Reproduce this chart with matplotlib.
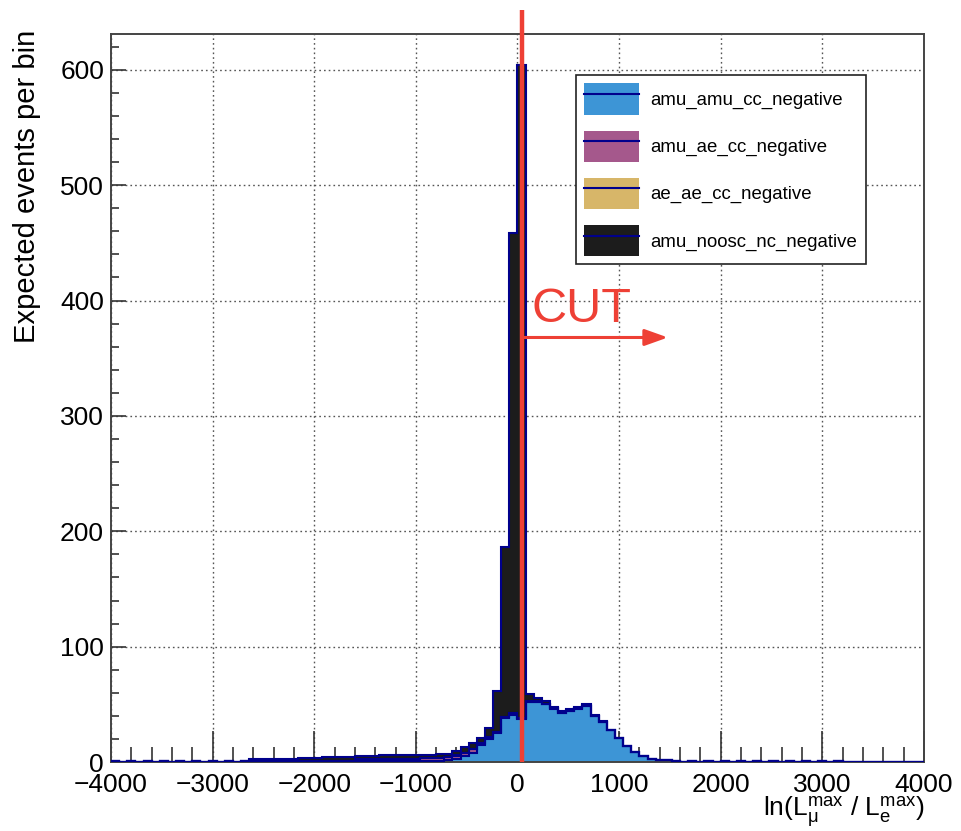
import numpy as np
import matplotlib
matplotlib.use('Agg')
import matplotlib.pyplot as plt
from matplotlib.patches import Patch
from matplotlib.lines import Line2D

plt.rcParams['font.family'] = ['Liberation Sans', 'DejaVu Sans']
plt.rcParams['mathtext.fontset'] = 'custom'
plt.rcParams['mathtext.rm'] = 'Liberation Sans'
plt.rcParams['mathtext.it'] = 'Liberation Sans'

# ─── Data: 100 bins from -4000 to 4000 (width 80) ─────────────────────────────
bin_edges = np.linspace(-4000, 4000, 101)

amu_amu_cc = [0.7, 0.1, 0.7, 0.1, 0.7, 0.1, 0.7, 0.1, 0.7, 0.1,
              0.7, 0.1, 0.7, 0.1, 0.7, 0.1, 0.7, 0.3, 0.3, 0.3,
              0.3, 0.3, 0.3, 0.4, 0.4, 0.4, 0.5, 0.5, 0.5, 0.5,
              0.5, 0.5, 0.5, 0.5, 0.5, 0.5, 0.5, 0.5, 0.6, 0.8,
              1.0, 1.5, 3, 5, 8, 15, 20, 25, 38, 41,
              37, 52, 52, 50, 46, 42.5, 44, 46, 48.5, 40,
              35, 27.5, 20.5, 14, 9, 5.5, 3, 2, 1.5, 0.7,
              0.1, 0.7, 0.1, 0.7, 0.1, 0.7, 0.1, 0.7, 0.1, 0.7,
              0.1, 0.7, 0.1, 0.7, 0.1, 0.7, 0.1, 0.7, 0.1, 0.7,
              0, 0, 0, 0, 0, 0, 0, 0, 0, 0]

amu_ae_cc = [0, 0, 0, 0, 0, 0, 0, 0, 0, 0,
             0, 0, 0, 0, 0, 0, 0, 0.2, 0.2, 0.2,
             0.2, 0.2, 0.2, 0.4, 0.4, 0.4, 0.8, 0.8, 0.8, 0.8,
             1.7, 1.7, 1.7, 2.5, 2.5, 2.5, 2.5, 2.5, 2.5, 2.5,
             2.5, 2.5, 2.5, 2.5, 3, 1, 1, 1, 1, 1,
             1, 0.4, 0.4, 0.4, 0.4, 0.4, 0.4, 0.4, 0.4, 0,
             0, 0, 0, 0, 0, 0, 0, 0, 0, 0,
             0, 0, 0, 0, 0, 0, 0, 0, 0, 0,
             0, 0, 0, 0, 0, 0, 0, 0, 0, 0,
             0, 0, 0, 0, 0, 0, 0, 0, 0, 0]

ae_ae_cc = [0, 0, 0, 0, 0, 0, 0, 0, 0, 0,
            0, 0, 0, 0, 0, 0, 0, 0, 0, 0,
            0, 0, 0, 0, 0, 0, 0, 0, 0, 0,
            0, 0, 0, 0, 0, 0, 0, 0, 0, 0,
            0.3, 0.3, 0.3, 0.3, 0.3, 0.3, 0.3, 0.3, 0.3, 0.3,
            0.3, 0.3, 0.3, 0.3, 0.3, 0.3, 0.3, 0.3, 0.3, 0,
            0, 0, 0, 0, 0, 0, 0, 0, 0, 0,
            0, 0, 0, 0, 0, 0, 0, 0, 0, 0,
            0, 0, 0, 0, 0, 0, 0, 0, 0, 0,
            0, 0, 0, 0, 0, 0, 0, 0, 0, 0]

amu_noosc_nc = [0, 0, 0, 0, 0, 0, 0, 0, 0, 0,
                0, 0, 0, 0, 0, 0, 0, 1.8, 1.8, 1.8,
                1.8, 1.8, 1.8, 2.4, 2.4, 2.4, 2.7, 2.7, 2.7, 2.7,
                3, 3, 3, 3, 3, 3, 3, 3, 3, 3,
                3, 3, 3.5, 5, 5, 4.5, 8, 35, 147, 416,
                566, 6, 3, 2, 1, 1, 1, 1, 1, 0.5,
                0.5, 0.5, 0.5, 0, 0, 0, 0, 0, 0, 0,
                0, 0, 0, 0, 0, 0, 0, 0, 0, 0,
                0, 0, 0, 0, 0, 0, 0, 0, 0, 0,
                0, 0, 0, 0, 0, 0, 0, 0, 0, 0]

labels = ['amu_amu_cc_negative', 'amu_ae_cc_negative',
          'ae_ae_cc_negative', 'amu_noosc_nc_negative']
colors = ['#3d95d6', '#a5588c', '#d7b669', '#1c1c1c']
line_color = '#00008c'

cut_value = 40
arrow_end = 1480
arrow_y = 368

# ─── Figure ───────────────────────────────────────────────────────────────────
fig = plt.figure(figsize=(9.62, 8.31), dpi=100)
ax = fig.add_axes([0.1154, 0.083, 0.845, 0.876])

series = [amu_amu_cc, amu_ae_cc, ae_ae_cc, amu_noosc_nc]
bottom = np.zeros(100)
tops = []
for vals, col in zip(series, colors):
    top = bottom + np.array(vals, dtype=float)
    ax.stairs(top, bin_edges, baseline=bottom, fill=True, color=col,
              lw=0, zorder=2)
    tops.append(top)
    bottom = top

# outlines: total first, lower layers drawn over
for top in tops[::-1]:
    ax.stairs(top, bin_edges, color=line_color, lw=1.5, zorder=3)

ax.set_xlim(-4000, 4000)
ax.set_ylim(0, 631)

ax.set_xticks(np.arange(-4000, 4001, 1000))
ax.set_xticks(np.arange(-4000, 4001, 200), minor=True)
ax.set_yticks(np.arange(0, 601, 100))
ax.set_yticks(np.arange(0, 631, 20), minor=True)
ax.tick_params(axis='both', which='both', direction='in', top=False,
               right=False, labelsize=19, color='#333333')
ax.tick_params(axis='x', which='major', length=22, width=1.2, pad=8)
ax.tick_params(axis='x', which='minor', length=11, width=1.2)
ax.tick_params(axis='y', which='major', length=11, width=1.2, pad=5)
ax.tick_params(axis='y', which='minor', length=6, width=1.2)
ax.grid(True, which='major', color='#555555', ls=(0, (1.2, 2.2)), lw=1.0)
ax.set_axisbelow(True)
for sp in ax.spines.values():
    sp.set_linewidth(1.4)
    sp.set_color('#444444')

# cut line and arrow
ax.plot([cut_value, cut_value], [0, 652], color='#ee4035', lw=3.2,
        clip_on=False, zorder=5, solid_capstyle='butt')
ax.annotate('', xy=(arrow_end, arrow_y), xytext=(cut_value, arrow_y),
            arrowprops=dict(arrowstyle='-|>,head_length=1.4,head_width=0.5',
                            color='#ee4035', lw=2.2, shrinkA=0, shrinkB=0),
            zorder=5)
ax.text(cut_value + 100, arrow_y + 5, 'CUT', color='#ee4035', fontsize=35,
        ha='left', va='bottom', zorder=5)

# legend
handles = [(Patch(facecolor=c, edgecolor='none'),
            Line2D([], [], color=line_color, lw=1.5)) for c in colors]
leg = ax.legend(handles, labels, loc='upper left',
                bbox_to_anchor=(576 / 962, 1 - 75 / 831),
                bbox_transform=fig.transFigure, fontsize=13.4,
                handlelength=2.95, handleheight=2.2, labelspacing=0.86,
                handletextpad=0.6, borderpad=0.45, borderaxespad=0,
                fancybox=False, framealpha=1, edgecolor='#222222')
leg.get_frame().set_linewidth(1.2)

# axis titles
fig.text(27 / 962, 1 - 30 / 831, 'Expected events per bin',
         family=['Liberation Sans Narrow', 'Liberation Sans'], fontsize=21,
         rotation=90, ha='center', va='top')
fig.text(925 / 962, 1 - 812 / 831,
         r'ln(L$_{\mu}^{\mathrm{max}}$ / L$_{e}^{\mathrm{max}}$)',
         fontsize=19, ha='right', va='center')

fig.savefig('out.png', dpi=100)
